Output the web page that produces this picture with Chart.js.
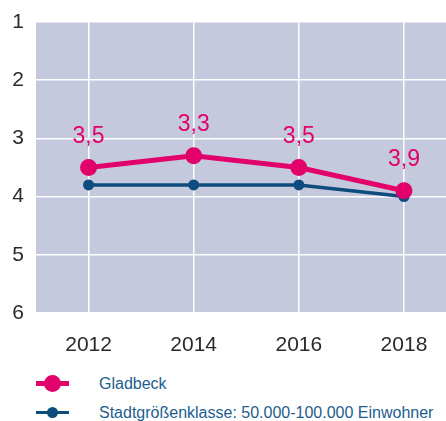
<!DOCTYPE html>
<html>
<head>
<meta charset="utf-8">
<script src="https://cdn.jsdelivr.net/npm/chart.js@4"></script>
<style>
  body { margin: 0; background: #fff; font-family: "Liberation Sans", Arial, sans-serif; }
  #wrap { width: 446px; height: 421px; position: relative; overflow: hidden; }
  #legend { position: absolute; left: 0; top: 369px; width: 446px; }
  .item { position: relative; height: 29px; }
  .line { position: absolute; left: 36px; width: 33px; top: 50%; }
  .dot { position: absolute; border-radius: 50%; top: 50%; left: 52px; }
  .txt { position: absolute; left: 99px; top: 50%; transform: translateY(-50%); font-size: 16px; color: #1d5d8e; white-space: nowrap; }
</style>
</head>
<body>
<div id="wrap">
  <canvas id="c" width="446" height="360" style="width:446px;height:360px"></canvas>
  <div id="legend"></div>
</div>
<script>
// Daten
const years = [2012, 2014, 2016, 2018];
const gladbeck = [3.5, 3.3, 3.5, 3.9];
const klasse = [3.8, 3.8, 3.8, 4.0];
const yTicks = [1, 2, 3, 4, 5, 6];
const seriesNames = ['Gladbeck', 'Stadtgrößenklasse: 50.000-100.000 Einwohner'];

const pink = '#e2006b';
const blue = '#0d4c7c';

function toPoints(vals) {
  return years.map((y, i) => ({ x: y, y: vals[i] }));
}

// Hintergrund der Zeichenfläche
const plotBg = {
  id: 'plotBg',
  beforeDraw(chart) {
    const a = chart.chartArea;
    chart.ctx.save();
    chart.ctx.fillStyle = '#c5c9de';
    chart.ctx.fillRect(a.left, a.top, a.right - a.left, a.bottom - a.top);
    chart.ctx.restore();
  }
};

// Werte über den Gladbeck-Punkten
const valueLabels = {
  id: 'valueLabels',
  afterDatasetsDraw(chart) {
    const ctx = chart.ctx;
    const meta = chart.getDatasetMeta(0);
    ctx.save();
    ctx.fillStyle = pink;
    ctx.font = '23px "Liberation Sans", Arial, sans-serif';
    ctx.textAlign = 'center';
    ctx.textBaseline = 'middle';
    meta.data.forEach((p, i) => {
      ctx.fillText(gladbeck[i].toFixed(1).replace('.', ','), p.x, p.y - 31);
    });
    ctx.restore();
  }
};

new Chart(document.getElementById('c'), {
  type: 'line',
  data: {
    datasets: [
      { label: seriesNames[0], data: toPoints(gladbeck), borderColor: pink, backgroundColor: pink,
        borderWidth: 5, pointRadius: 8.5, pointBorderWidth: 0, order: 1 },
      { label: seriesNames[1], data: toPoints(klasse), borderColor: blue, backgroundColor: blue,
        borderWidth: 3.5, pointRadius: 5.5, pointBorderWidth: 0, order: 2 }
    ]
  },
  options: {
    responsive: false,
    animation: false,
    layout: { autoPadding: false, padding: { top: 22, right: 0, left: 0, bottom: 0 } },
    plugins: { legend: { display: false }, tooltip: { enabled: false } },
    scales: {
      x: {
        type: 'linear', min: 2011, max: 2018.8,
        afterBuildTicks(axis) { axis.ticks = years.map(v => ({ value: v })); },
        afterFit(axis) { axis.height = 47; axis.paddingLeft = 0; axis.paddingRight = 0; },
        grid: { color: '#ffffff', lineWidth: 1.5, drawTicks: false },
        border: { display: false },
        ticks: { color: '#2a2a2a', padding: 20, font: { size: 21, family: '"Liberation Sans", Arial, sans-serif' }, callback: v => String(v) }
      },
      y: {
        reverse: true, min: 1, max: 6,
        afterBuildTicks(axis) { axis.ticks = yTicks.map(v => ({ value: v })); },
        afterFit(axis) { axis.width = 36; axis.paddingTop = 0; axis.paddingBottom = 0; },
        grid: { color: '#ffffff', lineWidth: 1.5, drawTicks: false },
        border: { display: false },
        ticks: { color: '#2a2a2a', padding: 12, font: { size: 21, family: '"Liberation Sans", Arial, sans-serif' } }
      }
    }
  },
  plugins: [plotBg, valueLabels]
});

// Legende
const legend = document.getElementById('legend');
[[pink, 5, 17], [blue, 3.5, 11]].forEach((s, i) => {
  const item = document.createElement('div');
  item.className = 'item';
  item.innerHTML =
    '<span class="line" style="background:' + s[0] + ';height:' + s[1] + 'px;margin-top:' + (-s[1] / 2) + 'px"></span>' +
    '<span class="dot" style="background:' + s[0] + ';width:' + s[2] + 'px;height:' + s[2] + 'px;margin-left:' + (-s[2] / 2) + 'px;margin-top:' + (-s[2] / 2) + 'px"></span>' +
    '<span class="txt">' + seriesNames[i] + '</span>';
  legend.appendChild(item);
});
</script>
</body>
</html>
